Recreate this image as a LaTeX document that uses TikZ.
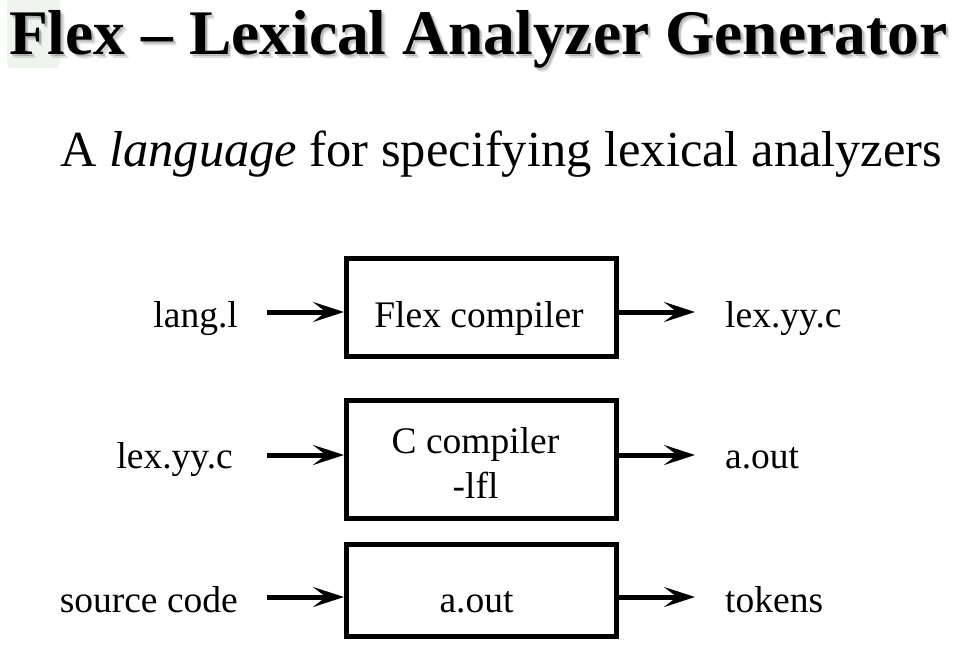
\documentclass[tikz,border=0pt]{standalone}
\usepackage{fontspec}
\setmainfont{Liberation Serif}
\usetikzlibrary{arrows.meta}
\definecolor{tabbg}{HTML}{EFF4EF}
\tikzset{
  procbox/.style={draw=black, line width=5pt, fill=white, minimum width=270pt, inner sep=0pt},
  lbl/.style={inner sep=0pt, font=\fontsize{37.5}{44}\selectfont},
  flow/.style={line width=5pt, -{Stealth[length=31pt,width=20pt,inset=13pt]}},
  titlefont/.style={inner sep=0pt, anchor=base west, font=\fontsize{63.5}{70}\selectfont\bfseries},
}
\begin{document}
\begin{tikzpicture}[x=1pt,y=1pt]
\useasboundingbox (0,0) rectangle (965,-660);
% faint tab behind title start
\fill[tabbg, rounded corners=4pt] (7,2) rectangle (60,-68);
% title with soft shadow
\node[titlefont, text=black, text opacity=0.12] (titleshadowa) at (12.5,-58.5) {Flex -- Lexical Analyzer Generator};
\node[titlefont, text=black, text opacity=0.18] (titleshadowb) at (11,-57) {Flex -- Lexical Analyzer Generator};
\node[titlefont] (title) at (9,-55) {Flex -- Lexical Analyzer Generator};
% subtitle
\node[inner sep=0pt, anchor=base west, font=\fontsize{50.5}{58}\selectfont] (subtitle) at (60,-167) {A \textit{language} for specifying lexical analyzers};
% boxes
\node[procbox, minimum height=98pt] (b1) at (481.5,-307.5) {};
\node[procbox, minimum height=118pt] (b2) at (481.5,-459.5) {};
\node[procbox, minimum height=92pt] (b3) at (481.5,-590.5) {};
% box texts
\node[lbl, anchor=base] (t1) at ([xshift=-2.5pt,yshift=-19.5pt]b1.center) {Flex compiler};
\node[lbl, anchor=base] (t2a) at ([xshift=-6pt,yshift=6.5pt]b2.center) {C compiler};
\node[lbl, anchor=base] (t2b) at ([xshift=-6pt,yshift=-38.5pt]b2.center) {-lfl};
\node[lbl, anchor=base] (t3) at ([xshift=-5pt,yshift=-21.5pt]b3.center) {a.out};
% left labels
\node[lbl, anchor=base east] (in1) at (238,-327) {lang.l};
\node[lbl, anchor=base east] (in2) at (233,-468) {lex.yy.c};
\node[lbl, anchor=base east] (in3) at (238,-612) {source code};
% right labels
\node[lbl, anchor=base west] (out1) at (725,-327) {lex.yy.c};
\node[lbl, anchor=base west] (out2) at (725,-468) {a.out};
\node[lbl, anchor=base west] (out3) at (725,-612) {tokens};
% arrow endpoints
\coordinate (s1) at (267,-312);
\coordinate (s2) at (267,-455);
\coordinate (s3) at (267,-597);
\coordinate (e1) at (695,-312);
\coordinate (e2) at (695,-455);
\coordinate (e3) at (695,-597);
% arrows
\draw[flow] (s1) -- (s1 -| b1.west);
\draw[flow] (s2) -- (s2 -| b2.west);
\draw[flow] (s3) -- (s3 -| b3.west);
\draw[flow] (e1 -| b1.east) -- (e1);
\draw[flow] (e2 -| b2.east) -- (e2);
\draw[flow] (e3 -| b3.east) -- (e3);
\end{tikzpicture}
\end{document}
